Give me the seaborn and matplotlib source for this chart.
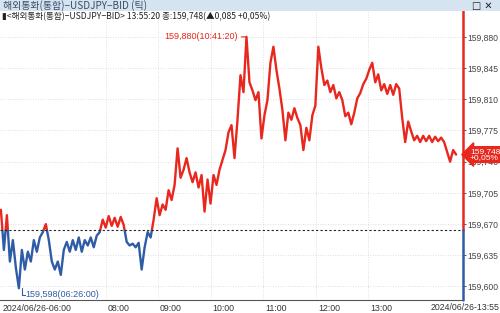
import matplotlib
matplotlib.use("Agg")
import matplotlib.pyplot as plt
import matplotlib.transforms as mtransforms
from matplotlib.patches import Rectangle
import numpy as np
import pandas as pd
import seaborn as sns

# ---------------- data ----------------
prices = [
    159.686, 159.641, 159.680, 159.628, 159.652, 159.621, 159.598, 159.641, 159.619, 159.639,
    159.628, 159.652, 159.639, 159.655, 159.661, 159.670, 159.652, 159.628, 159.619, 159.628,
    159.613, 159.641, 159.650, 159.639, 159.652, 159.641, 159.655, 159.639, 159.652, 159.646,
    159.655, 159.644, 159.657, 159.661, 159.675, 159.666, 159.679, 159.668, 159.677, 159.667,
    159.678, 159.669, 159.650, 159.646, 159.648, 159.644, 159.649, 159.619, 159.644, 159.661,
    159.655, 159.675, 159.699, 159.680, 159.692, 159.686, 159.708, 159.697, 159.714, 159.755,
    159.722, 159.731, 159.744, 159.728, 159.717, 159.728, 159.711, 159.725, 159.684, 159.720,
    159.693, 159.725, 159.714, 159.731, 159.742, 159.753, 159.773, 159.781, 159.744, 159.787,
    159.837, 159.818, 159.880, 159.829, 159.820, 159.809, 159.818, 159.766, 159.792, 159.809,
    159.851, 159.869, 159.843, 159.822, 159.798, 159.764, 159.795, 159.787, 159.800, 159.789,
    159.781, 159.753, 159.778, 159.764, 159.792, 159.803, 159.869, 159.845, 159.826, 159.831,
    159.818, 159.826, 159.811, 159.818, 159.809, 159.791, 159.795, 159.782, 159.795, 159.811,
    159.817, 159.827, 159.833, 159.843, 159.851, 159.829, 159.838, 159.820, 159.827, 159.816,
    159.826, 159.815, 159.827, 159.822, 159.789, 159.762, 159.785, 159.774, 159.764, 159.769,
    159.762, 159.769, 159.763, 159.769, 159.762, 159.768, 159.763, 159.767, 159.762, 159.751,
    159.740, 159.753, 159.748,
]
prev_close = 159.663
y_ticks = [159.600, 159.635, 159.670, 159.705, 159.740, 159.775, 159.810, 159.845, 159.880]
x_tick_pos = [0, 35, 52.3, 70, 87.5, 105.3, 122.7]
x_tick_labels = ["2024/06/26-06:00", "08:00", "09:00", "10:00", "11:00", "12:00", "13:00"]
last_label = "2024/06/26-13:55"
max_label = "159,880(10:41:20)"
min_label = "159,598(06:26:00)"
cur_label = "159,748\n+0,05%"
title1 = "해외통화(통합)−USDJPY−BID (틱)"
title2 = "<해외통화(통합)−USDJPY−BID> 13:55:20 종:159,748(▲0,085 +0,05%)"

RED = "#e8271e"
BLUE = "#2f5ca6"
FAM = ["Liberation Sans", "Noto Sans CJK KR", "DejaVu Sans"]
KFAM = ["Noto Sans CJK KR", "DejaVu Sans"]

sns.set_style("white")
plt.rcParams["font.family"] = FAM

df = pd.DataFrame({"i": np.arange(len(prices)), "price": prices})

fig = plt.figure(figsize=(5.0, 3.13), dpi=100)
fig.patch.set_facecolor("white")
bottom = 1 - 299.5 / 313
top = 1 - 10.5 / 313
ax = fig.add_axes([0.0, bottom, 0.926, top - bottom])

ylo, yhi = 159.5854, 159.9096
xlo, xhi = -0.3, 154.3
ax.set_xlim(xlo, xhi)
ax.set_ylim(ylo, yhi)

# grid
for yt in y_ticks:
    ax.axhline(yt, color="#d4d4d4", lw=0.6, ls=(0, (1, 2)), zorder=0)
for xt in x_tick_pos[1:]:
    ax.axvline(xt, color="#d4d4d4", lw=0.6, ls=(0, (1, 2)), zorder=0)

# price line, red above previous close, blue below
sns.lineplot(data=df, x="i", y="price", ax=ax, color=RED, lw=1.7, zorder=3)
sns.lineplot(data=df, x="i", y="price", ax=ax, color=BLUE, lw=1.7, zorder=3)
l_red, l_blue = ax.lines[-2], ax.lines[-1]
clip_red = Rectangle((xlo, prev_close), xhi - xlo, yhi - prev_close, transform=ax.transData)
clip_blue = Rectangle((xlo, ylo), xhi - xlo, prev_close - ylo, transform=ax.transData)
l_red.set_clip_path(clip_red)
l_blue.set_clip_path(clip_blue)

ax.axhline(prev_close, color="#222222", lw=0.8, ls=(0, (2, 2)), zorder=4)

# axes
ax.set_xlabel("")
ax.set_ylabel("")
for s in ["left", "top", "right"]:
    ax.spines[s].set_visible(False)
ax.spines["bottom"].set_color("#555555")
ax.spines["bottom"].set_linewidth(0.8)
frac = (prev_close - ylo) / (yhi - ylo)
ax.axvline(xhi, ymin=frac, ymax=1, color=RED, lw=1.8, clip_on=False, zorder=5)
ax.axvline(xhi, ymin=0, ymax=frac, color=BLUE, lw=1.8, clip_on=False, zorder=5)

ax.yaxis.tick_right()
ax.set_yticks(y_ticks)
ax.set_yticklabels([f"{v:.3f}".replace(".", ",") for v in y_ticks])
ax.tick_params(axis="y", length=2.5, width=0.7, color="#555555", pad=0.8,
               labelsize=6.2, labelcolor="#444444", direction="out")
ax.set_xticks(x_tick_pos)
ax.set_xticklabels(x_tick_labels)
ax.tick_params(axis="x", length=3, width=0.7, color="#555555", pad=0.3,
               labelsize=6.3, labelcolor="#333333", direction="out")
off = mtransforms.ScaledTranslation(2 / 100, 0, fig.dpi_scale_trans)
for lab in ax.get_xticklabels():
    lab.set_ha("left")
    lab.set_transform(lab.get_transform() + off)
fig.text(0.998, bottom - 0.012, last_label, ha="right", va="top", fontsize=6.3,
         color="#333333")

# annotations for max / min
imax = int(np.argmax(prices))
imin = int(np.argmin(prices))
ax.annotate(max_label, xy=(imax, prices[imax]), xytext=(-6, 0),
            textcoords="offset points", ha="right", va="center", fontsize=6.5, color=RED,
            arrowprops=dict(arrowstyle="-", color=RED, lw=0.8, shrinkA=0, shrinkB=0))
ax.plot([imin + 1, imin + 1, imin + 2], [prices[imin], 159.591, 159.591],
        color=BLUE, lw=0.8, zorder=4, clip_on=False)
ax.text(imin + 2.2, 159.591, min_label, ha="left", va="center", fontsize=6.5, color=BLUE)

# current price marker
ax.annotate(cur_label, xy=(1.0, prices[-1]), xycoords=("axes fraction", "data"),
            xytext=(5, 0), textcoords="offset points", ha="left", va="center",
            fontsize=6.0, color="white", linespacing=0.95, annotation_clip=False,
            bbox=dict(boxstyle="larrow,pad=0.12", fc=RED, ec=RED), zorder=10)

# header
fig.patches.append(Rectangle((0, 1 - 10.5 / 313), 1, 10.5 / 313, transform=fig.transFigure,
                             facecolor="#d6e4f2", edgecolor="none", zorder=0))
fig.text(0.006, 1 - 5.5 / 313, title1, ha="left", va="center", fontsize=7.2,
         color="#3a4a63", family=KFAM)
fig.text(0.965, 1 - 5.5 / 313, "□ ✕", ha="center", va="center", fontsize=7,
         color="#222222", family=["DejaVu Sans"])
fig.text(0.004, 1 - 16.5 / 313, "▮" + title2, ha="left", va="center", fontsize=6.2,
         color="#222222", family=KFAM)

fig.savefig("out.png", dpi=100)
